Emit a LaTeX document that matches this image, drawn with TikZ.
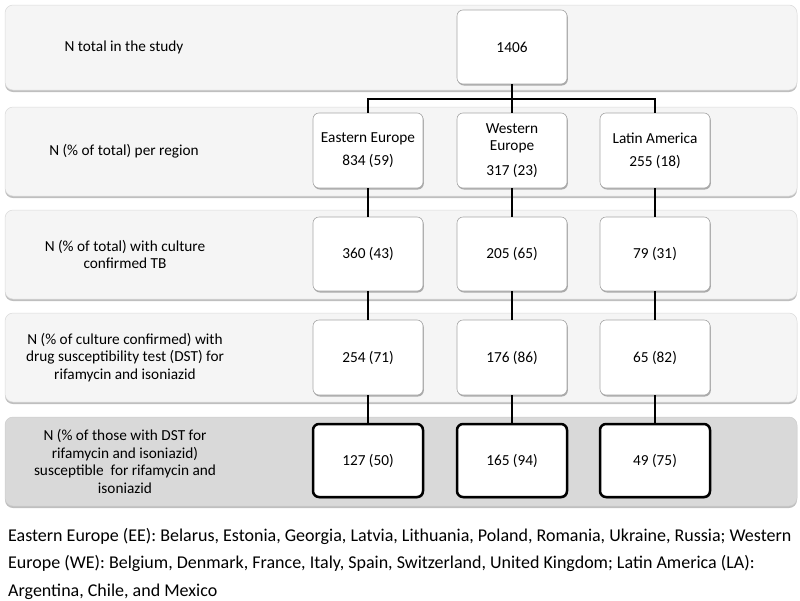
\documentclass[tikz,border=0pt]{standalone}
\usepackage{fontspec}
\setmainfont{Carlito}
\usetikzlibrary{shadows}
\begin{document}
\begin{tikzpicture}[x=1pt,y=-1pt,
  band/.style={draw=gray!30, line width=0.5pt, fill=gray!8, rounded corners=8pt, minimum width=792pt, inner sep=0pt,
    drop shadow={shadow xshift=0pt, shadow yshift=-2pt, fill=black, opacity=0.25}},
  darkband/.style={band, fill=gray!30, draw=gray!40},
  numbox/.style={draw=gray!70, line width=0.6pt, fill=white, rounded corners=6pt, minimum width=110pt, inner sep=2pt, align=center,
    font=\fontsize{15.3}{17}\selectfont,
    drop shadow={shadow xshift=0.8pt, shadow yshift=-1.5pt, fill=black, opacity=0.3}},
  boldbox/.style={numbox, draw=black, line width=2.5pt},
  lbl/.style={align=center, font=\fontsize{15.3}{17.5}\selectfont},
  conn/.style={line width=2.5pt, draw=black}
]
\useasboundingbox (0,0) rectangle (800,600);
% bands
\node[band, minimum height=85pt] (b1) at (401,47.5) {};
\node[band, minimum height=89pt] (b2) at (401,151.5) {};
\node[band, minimum height=89pt] (b3) at (401,254.5) {};
\node[band, minimum height=89pt] (b4) at (401,357.5) {};
\node[darkband, minimum height=89pt] (b5) at (401,461.5) {};
% labels
\node[lbl] (l1) at (124,47.5) {N total in the study};
\node[lbl] (l2) at (124,151.5) {N (\% of total) per region};
\node[lbl] (l3) at (125,254.5) {N (\% of total) with culture\\confirmed TB};
\node[lbl] (l4) at (125,357.5) {N (\% of culture confirmed) with\\drug susceptibility test (DST) for\\rifamycin and isoniazid};
\node[lbl] (l5) at (125,461.5) {N (\% of those with DST for\\rifamycin and isoniazid)\\susceptible~ for rifamycin and\\isoniazid};
\coordinate (hy) at (512,99);
% boxes
\node[numbox, minimum height=74pt] (tot) at (512,47) {1406};
\node[numbox, minimum height=75pt] (ee2) at (368,150.5) {Eastern Europe\\[6pt]834 (59)};
\node[numbox, minimum height=75pt] (we2) at (512,150.5) {Western\\Europe\\[8pt]317 (23)};
\node[numbox, minimum height=75pt] (la2) at (655,150.5) {Latin America\\[6pt]255 (18)};
\node[numbox, minimum height=74pt] (ee3) at (368,254) {360 (43)};
\node[numbox, minimum height=74pt] (we3) at (512,254) {205 (65)};
\node[numbox, minimum height=74pt] (la3) at (655,254) {79 (31)};
\node[numbox, minimum height=75pt] (ee4) at (368,357.5) {254 (71)};
\node[numbox, minimum height=75pt] (we4) at (512,357.5) {176 (86)};
\node[numbox, minimum height=75pt] (la4) at (655,357.5) {65 (82)};
\node[boldbox, minimum height=73pt] (ee5) at (368,460.5) {127 (50)};
\node[boldbox, minimum height=73pt] (we5) at (512,460.5) {165 (94)};
\node[boldbox, minimum height=73pt] (la5) at (655,460.5) {49 (75)};
% connectors
\draw[conn] (tot.south) -- (tot.south |- hy);
\draw[conn] (ee2.north) -- (ee2.north |- hy) -- (la2.north |- hy) -- (la2.north);
\draw[conn] (we2.north) -- (we2.north |- hy);
\draw[conn] (ee2.south) -- (ee3.north);
\draw[conn] (we2.south) -- (we3.north);
\draw[conn] (la2.south) -- (la3.north);
\draw[conn] (ee3.south) -- (ee4.north);
\draw[conn] (we3.south) -- (we4.north);
\draw[conn] (la3.south) -- (la4.north);
\draw[conn] (ee4.south) -- (ee5.north);
\draw[conn] (we4.south) -- (we5.north);
\draw[conn] (la4.south) -- (la5.north);
% footnote
\node[anchor=north west, align=left, inner sep=0pt, font=\fontsize{18}{27.5}\selectfont] (fn) at (8,528)
 {Eastern Europe (EE): Belarus, Estonia, Georgia, Latvia, Lithuania, Poland, Romania, Ukraine, Russia; Western\\
  Europe (WE): Belgium, Denmark, France, Italy, Spain, Switzerland, United Kingdom; Latin America (LA):\\
  Argentina, Chile, and Mexico};
\end{tikzpicture}
\end{document}
